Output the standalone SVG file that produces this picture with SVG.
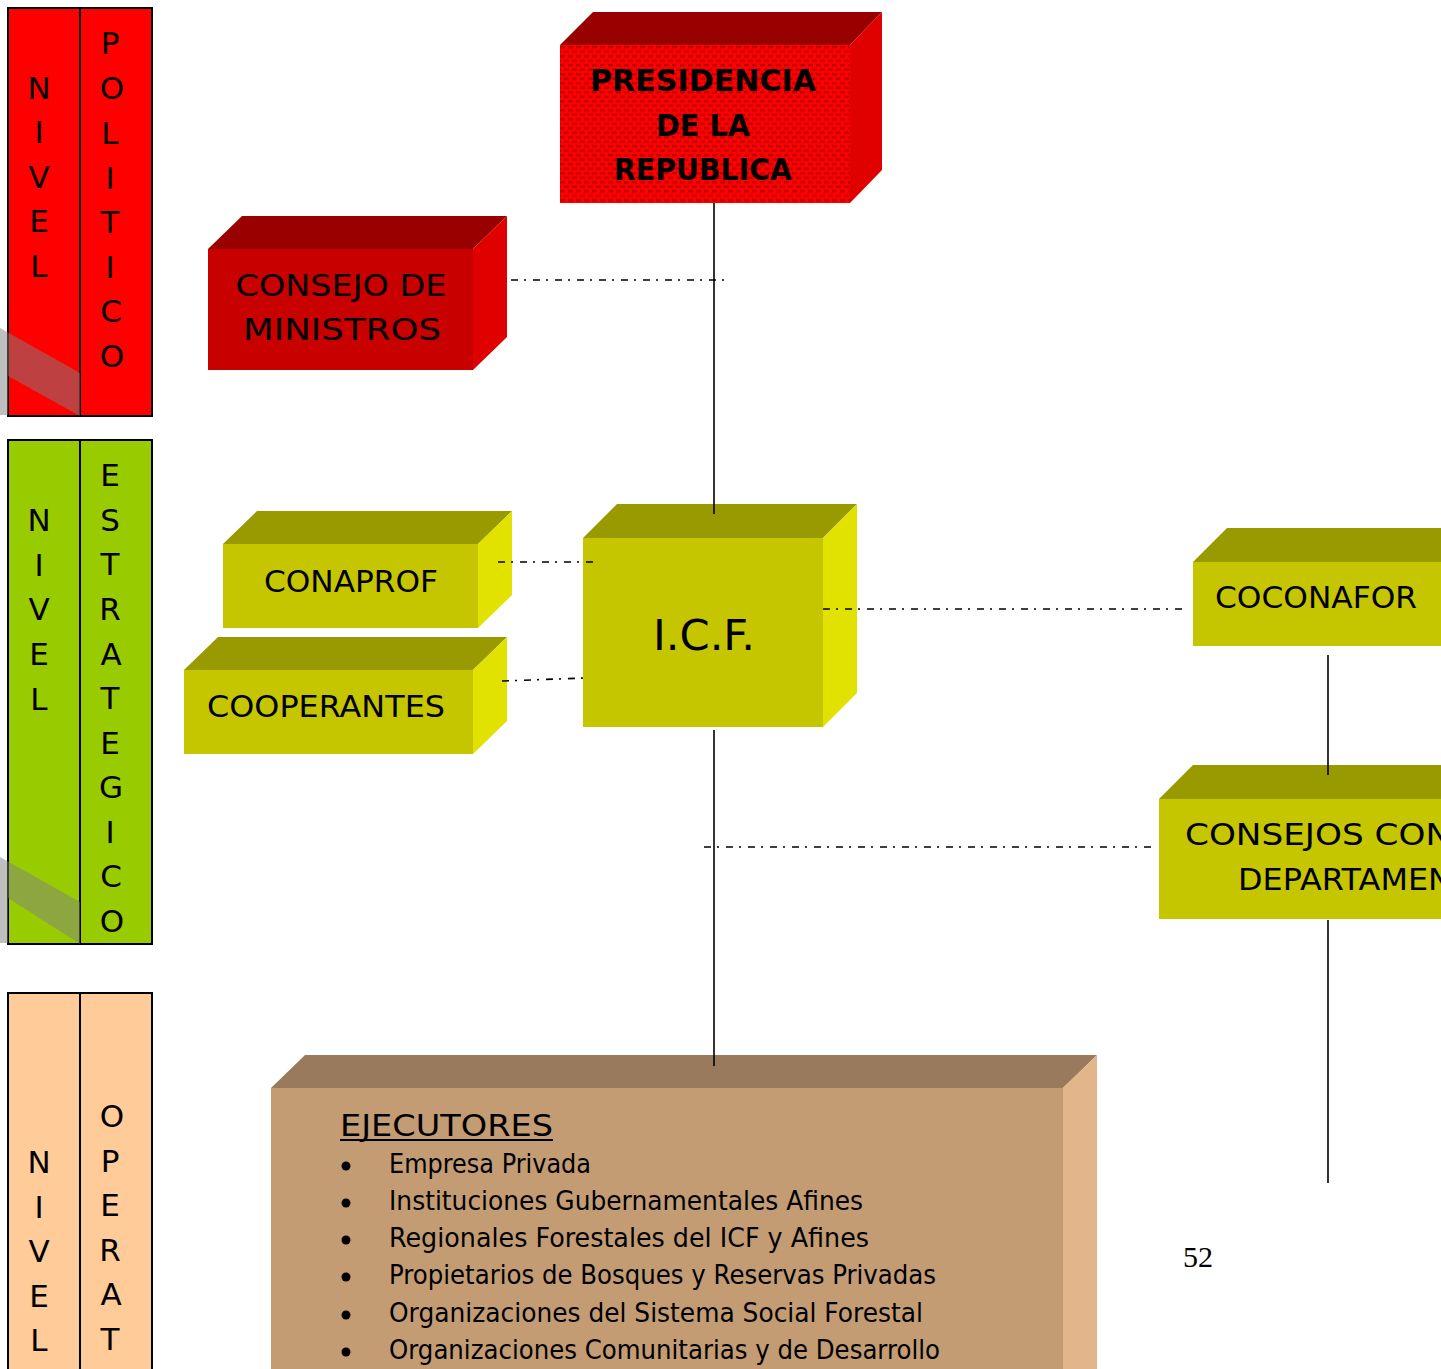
<svg xmlns="http://www.w3.org/2000/svg" width="1441" height="1369" viewBox="0 0 1441 1369">
<defs>
<pattern id="dots" x="0" y="0" width="8" height="9" patternUnits="userSpaceOnUse">
<rect width="8" height="9" fill="#FF0000"/>
<rect x="0" y="1" width="5" height="2.5" fill="#C40000"/>
<rect x="4" y="5.5" width="5" height="2.5" fill="#C40000"/>
<rect x="-4" y="5.5" width="5" height="2.5" fill="#C40000"/>
</pattern>
</defs>
<style>
.col{stroke:#000;stroke-width:2}
.lt{font-family:"DejaVu Sans",sans-serif;font-size:31px;fill:#000;text-anchor:middle}
.bt{font-family:"DejaVu Sans",sans-serif;font-size:30px;fill:#000;text-anchor:middle}
.bb{font-family:"DejaVu Sans",sans-serif;font-size:30px;font-weight:bold;fill:#000;text-anchor:middle}
.it{font-family:"DejaVu Sans",sans-serif;font-size:26px;fill:#000}
.dd{stroke:#000;stroke-width:1.6;stroke-dasharray:7 6 2 7;fill:none}
.sl{stroke:#000;stroke-width:1.6;fill:none}
.shadow{fill:#808080;fill-opacity:0.5}
</style>
<rect width="1441" height="1369" fill="#fff"/>

<g id="nivel-politico">
<rect class="col" x="8" y="8" width="144" height="408" fill="#FF0000"/>
<line class="col" x1="80" y1="8" x2="80" y2="416"/>
<polygon class="shadow" points="0,328 80,373 80,416 8,376 8,415 0,415"/>
<text class="lt" x="39" y="99">N</text><text class="lt" x="39" y="143">I</text><text class="lt" x="39" y="188">V</text><text class="lt" x="39" y="232">E</text><text class="lt" x="39" y="277">L</text>
<text class="lt" x="110" y="54">P</text><text class="lt" x="112" y="99">O</text><text class="lt" x="110" y="144">L</text><text class="lt" x="110" y="189">I</text><text class="lt" x="110" y="233">T</text><text class="lt" x="110" y="278">I</text><text class="lt" x="111" y="322">C</text><text class="lt" x="112" y="367">O</text>
</g>

<g id="nivel-estrategico">
<rect class="col" x="8" y="440" width="144" height="504" fill="#99CC00"/>
<line class="col" x1="80" y1="440" x2="80" y2="944"/>
<polygon class="shadow" points="0,857 80,902 80,944 8,898 8,943 0,943"/>
<text class="lt" x="39" y="531">N</text><text class="lt" x="39" y="576">I</text><text class="lt" x="39" y="620">V</text><text class="lt" x="39" y="665">E</text><text class="lt" x="39" y="710">L</text>
<text class="lt" x="110" y="486">E</text><text class="lt" x="110" y="531">S</text><text class="lt" x="110" y="575">T</text><text class="lt" x="110" y="620">R</text><text class="lt" x="111" y="665">A</text><text class="lt" x="110" y="709">T</text><text class="lt" x="110" y="754">E</text><text class="lt" x="111" y="798">G</text><text class="lt" x="110" y="843">I</text><text class="lt" x="111" y="887">C</text><text class="lt" x="112" y="932">O</text>
</g>

<g id="nivel-operativo">
<rect class="col" x="8" y="993" width="144" height="390" fill="#FFCC99"/>
<line class="col" x1="80" y1="993" x2="80" y2="1369"/>
<text class="lt" x="39" y="1173">N</text><text class="lt" x="39" y="1218">I</text><text class="lt" x="39" y="1262">V</text><text class="lt" x="39" y="1307">E</text><text class="lt" x="39" y="1351">L</text>
<text class="lt" x="112" y="1127">O</text><text class="lt" x="110" y="1172">P</text><text class="lt" x="110" y="1216">E</text><text class="lt" x="110" y="1261">R</text><text class="lt" x="111" y="1305">A</text><text class="lt" x="110" y="1350">T</text>
</g>

<g id="presidencia">
<polygon points="560,45 593,12 882,12 850,45" fill="#990000"/>
<polygon points="850,45 882,12 882,170 850,203" fill="#E00000"/>
<rect x="560" y="45" width="290" height="158" fill="url(#dots)"/>
<text class="bb" x="703" y="91" textLength="226" lengthAdjust="spacingAndGlyphs">PRESIDENCIA</text>
<text class="bb" x="703" y="136" textLength="94" lengthAdjust="spacingAndGlyphs">DE LA</text>
<text class="bb" x="703" y="180" textLength="178" lengthAdjust="spacingAndGlyphs">REPUBLICA</text>
</g>

<g id="consejo-ministros">
<polygon points="208,249 242,216 507,216 473,249" fill="#990000"/>
<polygon points="473,249 507,216 507,337 473,370" fill="#E00000"/>
<rect x="208" y="249" width="265" height="121" fill="#C80000"/>
<text class="bt" x="341" y="296" textLength="211" lengthAdjust="spacingAndGlyphs">CONSEJO DE</text>
<text class="bt" x="342" y="340" textLength="198" lengthAdjust="spacingAndGlyphs">MINISTROS</text>
</g>

<g id="conaprof">
<polygon points="223,544 257,511 512,511 478,544" fill="#999900"/>
<polygon points="478,544 512,511 512,595 478,628" fill="#E2E200"/>
<rect x="223" y="544" width="255" height="84" fill="#C6C600"/>
<text class="bt" x="351" y="592" textLength="174" lengthAdjust="spacingAndGlyphs">CONAPROF</text>
</g>

<g id="cooperantes">
<polygon points="184,670 218,637 507,637 473,670" fill="#999900"/>
<polygon points="473,670 507,637 507,721 473,754" fill="#E2E200"/>
<rect x="184" y="670" width="289" height="84" fill="#C6C600"/>
<text class="bt" x="326" y="717" textLength="238" lengthAdjust="spacingAndGlyphs">COOPERANTES</text>
</g>

<g id="icf">
<polygon points="583,538 617,504 857,504 823,538" fill="#999900"/>
<polygon points="823,538 857,504 857,693 823,727" fill="#E2E200"/>
<rect x="583" y="538" width="240" height="189" fill="#C6C600"/>
<text class="bt" x="704" y="650" style="font-size:43px" textLength="102" lengthAdjust="spacingAndGlyphs">I.C.F.</text>
</g>

<g id="coconafor">
<polygon points="1193,562 1227,528 1441,528 1441,562" fill="#999900"/>
<rect x="1193" y="562" width="248" height="84" fill="#C6C600"/>
<text class="bt" x="1316" y="608" textLength="202" lengthAdjust="spacingAndGlyphs">COCONAFOR</text>
</g>

<g id="consejos-departamentales">
<polygon points="1159,799 1193,765 1441,765 1441,799" fill="#999900"/>
<rect x="1159" y="799" width="282" height="120" fill="#C6C600"/>
<text class="bt" x="1185" y="845" style="text-anchor:start" textLength="266" lengthAdjust="spacingAndGlyphs">CONSEJOS CON</text>
<text class="bt" x="1238" y="890" style="text-anchor:start" textLength="214" lengthAdjust="spacingAndGlyphs">DEPARTAMEN</text>
</g>

<g id="ejecutores">
<polygon points="271,1088 305,1055 1097,1055 1063,1088" fill="#9A7A5C"/>
<polygon points="1063,1088 1097,1055 1097,1369 1063,1369" fill="#E2B68A"/>
<rect x="271" y="1088" width="792" height="281" fill="#C39C74"/>
<text class="it" x="340" y="1136" style="font-size:31px" textLength="213" lengthAdjust="spacingAndGlyphs">EJECUTORES</text>
<line x1="340" y1="1140" x2="553" y2="1140" stroke="#000" stroke-width="2"/>
<g fill="#000">
<circle cx="346" cy="1166" r="4.5"/><circle cx="346" cy="1203" r="4.5"/><circle cx="346" cy="1240" r="4.5"/><circle cx="346" cy="1277" r="4.5"/><circle cx="346" cy="1315" r="4.5"/><circle cx="346" cy="1352" r="4.5"/>
</g>
<text class="it" x="389" y="1173" textLength="202" lengthAdjust="spacingAndGlyphs">Empresa Privada</text>
<text class="it" x="389" y="1210" textLength="474" lengthAdjust="spacingAndGlyphs">Instituciones Gubernamentales Afines</text>
<text class="it" x="389" y="1247" textLength="480" lengthAdjust="spacingAndGlyphs">Regionales Forestales del ICF y Afines</text>
<text class="it" x="389" y="1284" textLength="547" lengthAdjust="spacingAndGlyphs">Propietarios de Bosques y Reservas Privadas</text>
<text class="it" x="389" y="1322" textLength="534" lengthAdjust="spacingAndGlyphs">Organizaciones del Sistema Social Forestal</text>
<text class="it" x="389" y="1359" textLength="551" lengthAdjust="spacingAndGlyphs">Organizaciones Comunitarias y de Desarrollo</text>
</g>

<g id="connectors">
<line class="sl" x1="714" y1="203" x2="714" y2="514"/>
<line class="dd" x1="511" y1="280" x2="728" y2="280"/>
<line class="dd" x1="498" y1="562" x2="595" y2="562"/>
<line class="dd" x1="502" y1="681" x2="585" y2="678"/>
<line class="dd" x1="823" y1="609" x2="1185" y2="609"/>
<line class="sl" x1="1328" y1="655" x2="1328" y2="775"/>
<line class="dd" x1="704" y1="847" x2="1157" y2="847"/>
<line class="sl" x1="714" y1="730" x2="714" y2="1066"/>
<line class="sl" x1="1328" y1="920" x2="1328" y2="1183"/>
</g>

<text x="1183" y="1267" style="font-family:'Liberation Serif',serif;font-size:30px;fill:#000">52</text>
</svg>
